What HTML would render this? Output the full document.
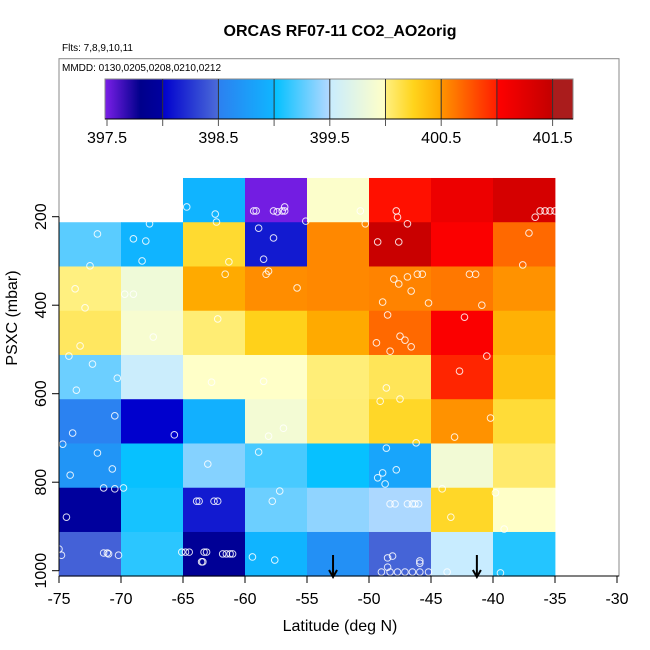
<!DOCTYPE html>
<html><head><meta charset="utf-8"><style>
html,body{margin:0;padding:0;background:#fff}
svg{display:block;font-family:"Liberation Sans",Arial,sans-serif}
</style></head><body>
<svg id="chart" width="650" height="650" viewBox="0 0 650 650">
<defs><linearGradient id="cbgrad" x1="0" x2="1" y1="0" y2="0"></linearGradient></defs>
<text x="340" y="36" text-anchor="middle" font-size="16" font-weight="bold">ORCAS RF07-11 CO2_AO2orig</text>
<text x="62" y="51" font-size="10">Flts: 7,8,9,10,11</text>
<rect x="59" y="58.7" width="560" height="517.3" fill="none" stroke="#888" stroke-width="1"/>
<text x="62" y="71" font-size="10">MMDD: 0130,0205,0208,0210,0212</text>
<g id="cells"></g>
<g id="points"></g>
<g id="arrows"></g>
<g id="colorbar"></g>
<g id="axes"></g>
<text x="340" y="631" text-anchor="middle" font-size="16">Latitude (deg N)</text>
<text transform="translate(17,318) rotate(-90)" text-anchor="middle" font-size="16">PSXC (mbar)</text>
</svg>
<script>
const latEdges = [-75,-70,-65,-60,-55,-50,-45,-40,-35];
const presEdges = [112.5,212.5,312.5,412.5,512.5,612.5,712.5,812.5,912.5,1012.5];
const row0 = [null,null,398.99,397.5,399.96,400.995,401.15,401.35];
const row1 = [399.25,398.99,400.2,398.12,400.55,401.45,401.03,400.68];
const row2 = [400.0,399.85,400.49,400.53,400.55,400.57,400.62,400.51];
const row3 = [400.08,399.92,400.03,400.27,400.49,400.68,401.03,400.45];
const row4 = [399.3,399.53,399.99,399.99,400.02,400.1,400.97,400.36];
const row5 = [398.52,398.0,398.95,399.88,400.03,400.22,400.51,400.18];
const row6 = [398.7,399.02,399.37,399.2,399.02,398.85,399.87,400.05];
const row7 = [397.97,399.06,398.12,399.3,399.4,399.48,400.22,399.99];
const row8 = [398.45,399.12,397.9,398.99,398.65,398.46,399.5,399.1];
const ptLat = [-64.7,-62.4,-62.3,-59.3,-59.1,-57.7,-57.4,-57.0,-56.8,-56.8,-55.1,-50.7,-50.3,-47.8,-47.7,-46.9,-36.6,-36.2,-35.8,-35.4,-35.0,
-71.9,-67.7,-69.0,-68.0,-68.3,-72.5,-61.3,-58.9,-57.7,-58.5,-49.3,-47.6,-37.1,-37.6,
-73.7,-72.9,-69.7,-69.0,-61.6,-58.1,-58.3,-55.8,-48.0,-47.6,-46.9,-46.1,-45.7,-46.6,-48.9,-45.2,-41.9,-41.4,-40.9,
-62.2,-67.4,-73.3,-74.2,-48.5,-49.4,-47.5,-47.1,-46.6,-48.3,-42.3,-40.5,
-72.3,-70.3,-73.6,-62.7,-58.5,-42.7,-48.6,
-49.1,-47.5,-70.5,-73.9,-74.7,-65.7,-56.9,-58.1,-40.2,-43.1,-46.2,
-71.9,-70.7,-74.1,-71.4,-70.5,-69.8,-63.0,-58.9,-48.6,-48.9,-47.8,-49.3,-48.7,-44.1,-39.8,
-74.4,-63.9,-63.7,-62.5,-62.2,-57.8,-57.2,-48.3,-47.9,-46.9,-46.5,-46.3,-46.0,-43.4,-39.1,
-75.0,-74.8,-71.4,-71.1,-71.0,-70.2,-65.1,-64.8,-64.5,-63.3,-63.1,-63.5,-63.4,-61.8,-61.5,-61.2,-61.0,-59.4,-57.6,-48.5,-48.1,-48.5,-49.0,-48.3,-47.7,-47.1,-46.5,-45.9,-45.2,-45.9,-45.9,-43.7,-39.4];
const ptPres = [178,194,212,187,187,187,189,187,178,187,210,187,216,187,201,216,201,187,187,187,187,
239,216,250,255,300,311,302,226,248,296,257,257,237,309,
363,406,375,375,330,323,330,361,341,352,336,330,330,368,393,395,330,330,400,
431,472,492,515,422,485,470,479,494,504,427,515,
533,565,592,574,572,549,587,
617,612,650,689,714,693,678,696,655,698,711,
734,770,784,813,815,813,759,732,723,779,772,790,804,815,824,
879,843,843,843,843,843,820,849,849,849,849,849,849,879,906,
951,965,960,960,962,965,958,958,958,958,958,980,980,962,962,962,962,969,976,971,967,992,1003,1003,1003,1003,1003,1003,1003,983,978,1003,1005];
const arrowLat = [-52.9,-41.3];
const xTicks = [-75,-70,-65,-60,-55,-50,-45,-40,-35,-30];
const yTicks = [200,400,600,800,1000];
const cbTicks = [397.5,398.5,399.5,400.5,401.5];
const cbDividers = [398.0,398.5,399.0,399.5,400.0,400.5,401.0,401.5];
const cmapVals = [397.48,397.8,397.999,398.0,398.49,398.5,398.99,399.0,399.49,399.5,399.99,400.0,400.25,400.49,400.5,400.99,401.0,401.49,401.5,401.7];
const cmapCols = ["#7b1fe8","#00008b","#0000a0","#0000cd","#4a6ad8","#2c80f0","#10b4ff","#00c0ff","#b0d8ff","#c8ecff","#ffffc8","#fff080","#ffd41c","#ffaa00","#ff9400","#ff2000","#ff0000","#c40000","#aa1c1c","#aa1c1c"];

const NS='http://www.w3.org/2000/svg';
const xs = v => 59 + (v + 75) * 12.4;
const ys = p => 216.7 + (p - 200) * 0.4425;
const cbx = v => 107 + (v - 397.5) * 111.4;
function hex(c){return [parseInt(c.substr(1,2),16),parseInt(c.substr(3,2),16),parseInt(c.substr(5,2),16)];}
function cmap(v){
  if(v<=cmapVals[0]) return cmapCols[0];
  for(let i=0;i<cmapVals.length-1;i++){
    if(v<=cmapVals[i+1]){
      const t=(v-cmapVals[i])/(cmapVals[i+1]-cmapVals[i]);
      const a=hex(cmapCols[i]),b=hex(cmapCols[i+1]);
      return 'rgb('+a.map((x,k)=>Math.round(x+(b[k]-x)*t)).join(',')+')';
    }
  }
  return cmapCols[cmapCols.length-1];
}
function mk(tag,attrs,parent){const e=document.createElementNS(NS,tag);for(const k in attrs)e.setAttribute(k,attrs[k]);parent.appendChild(e);return e;}

const rows=[row0,row1,row2,row3,row4,row5,row6,row7,row8];
const gc=document.getElementById('cells');
rows.forEach((row,r)=>{row.forEach((v,c)=>{
  if(v===null) return;
  const x0=xs(latEdges[c]),x1=xs(latEdges[c+1]),y0=ys(presEdges[r]),y1=ys(presEdges[r+1]);
  const e=mk('rect',{x:x0,y:y0,width:x1-x0+0.4,height:y1-y0+0.4,fill:cmap(v)},gc);
  
  
});});

const gp=document.getElementById('points');
ptLat.forEach((la,i)=>{
  const e=mk('circle',{cx:xs(la),cy:ys(ptPres[i]),r:3.3,fill:'none',stroke:'#fff','stroke-opacity':0.85,'stroke-width':1},gp);
  
  
});

const ga=document.getElementById('arrows');
arrowLat.forEach(la=>{
  const x=xs(la);
  const g=mk('g',{},ga);
  
  
  mk('line',{x1:x,y1:555,x2:x,y2:577,stroke:'#000','stroke-width':2},g);
  mk('polyline',{points:(x-4)+',570 '+x+',577 '+(x+4)+',570',fill:'none',stroke:'#000','stroke-width':2},g);
});

const grad=document.getElementById('cbgrad');
const cbL=105,cbR=573;
cmapVals.forEach((v,i)=>{
  const off=Math.max(0,Math.min(1,(cbx(v)-cbL)/(cbR-cbL)));
  mk('stop',{offset:off,'stop-color':cmapCols[i]},grad);
});
const gcb=document.getElementById('colorbar');
const bar=mk('rect',{x:cbL,y:79,width:cbR-cbL,height:40,fill:'url(#cbgrad)',stroke:'#888','stroke-width':1},gcb);


cbDividers.forEach(v=>{
  const e=mk('line',{x1:cbx(v),y1:79,x2:cbx(v),y2:119,stroke:'#333','stroke-width':1},gcb);
  
  
});
mk('line',{x1:cbL,y1:119,x2:cbR,y2:119,stroke:'#000','stroke-width':1},gcb);
[397.5].concat(cbDividers).forEach(v=>{
  mk('line',{x1:cbx(v),y1:119,x2:cbx(v),y2:126,stroke:'#555','stroke-width':1},gcb);
});
cbTicks.forEach(v=>{
  const t=mk('text',{x:cbx(v),y:143,'text-anchor':'middle','font-size':16},gcb);
  t.textContent=v.toFixed(1);
  
  
});

const gx=document.getElementById('axes');
mk('line',{x1:59,y1:576,x2:619,y2:576,stroke:'#000','stroke-width':1},gx);
mk('line',{x1:59,y1:ys(200),x2:59,y2:ys(1000),stroke:'#000','stroke-width':1},gx);
xTicks.forEach(v=>{
  mk('line',{x1:xs(v),y1:576,x2:xs(v),y2:583,stroke:'#000','stroke-width':1},gx);
  const t=mk('text',{x:xs(v),y:604,'text-anchor':'middle','font-size':16},gx);
  t.textContent=String(v);
  
  
});
yTicks.forEach(p=>{
  mk('line',{x1:52,y1:ys(p),x2:59,y2:ys(p),stroke:'#000','stroke-width':1},gx);
  const t=mk('text',{transform:'translate(46,'+ys(p)+') rotate(-90)','text-anchor':'middle','font-size':16},gx);
  t.textContent=String(p);
  
  
});
</script>
</body></html>
